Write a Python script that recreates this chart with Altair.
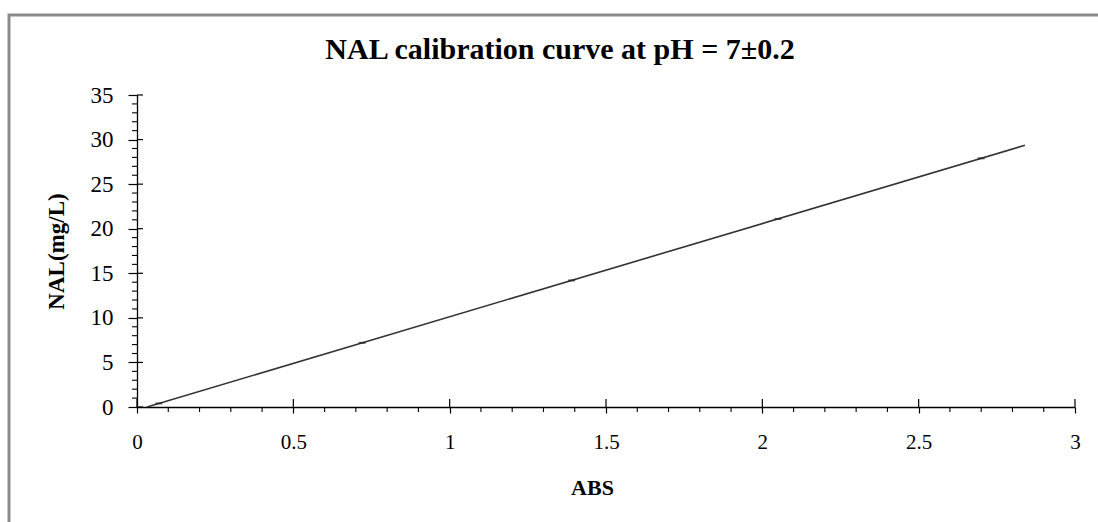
import altair as alt
import pandas as pd

# Calibration points: absorbance vs. NAL concentration
abs_values = [0.07, 0.72, 1.39, 2.05, 2.70]
nal_values = [0.4, 7.2, 14.2, 21.1, 27.9]

# Range over which the fitted calibration line is drawn
fit_extent = [0.032, 2.84]

# Axis tick positions
x_major = [0, 0.5, 1, 1.5, 2, 2.5, 3]
x_minor = [0.1, 0.2, 0.3, 0.4, 0.6, 0.7, 0.8, 0.9,
           1.1, 1.2, 1.3, 1.4, 1.6, 1.7, 1.8, 1.9,
           2.1, 2.2, 2.3, 2.4, 2.6, 2.7, 2.8, 2.9]
y_major = [0, 5, 10, 15, 20, 25, 30, 35]
y_minor = [1, 2, 3, 4, 6, 7, 8, 9, 11, 12, 13, 14, 16, 17, 18, 19,
           21, 22, 23, 24, 26, 27, 28, 29, 31, 32, 33, 34]

title_text = "NAL calibration curve at pH = 7\u00b10.2"
x_title = "ABS"
y_title = "NAL(mg/L)"

FONT = "Liberation Serif"
W, H = 938, 312

df = pd.DataFrame({"abs": abs_values, "nal": nal_values})

x_scale = alt.Scale(domain=[0, 3], nice=False, zero=False)
y_scale = alt.Scale(domain=[0, 35], nice=False, zero=False)

x_axis = alt.Axis(
    values=x_major, tickCount=60, format="~g",
    labelFont=FONT, labelFontSize=21, labelColor="black",
    labelPadding=18, labelOverlap=False, labelFlush=False,
    tickSize=6, tickColor="black", tickWidth=1.2,
    domainColor="black", domainWidth=1.3,
    grid=False,
    title=x_title, titleFont=FONT, titleFontSize=22, titleFontWeight="bold",
    titleColor="black", titleX=455, titleY=80,
    titleAlign="center", titleBaseline="middle",
)
y_axis = alt.Axis(
    values=y_major, tickCount=60, format="~g",
    labelFont=FONT, labelFontSize=23, labelColor="black",
    labelPadding=15, labelOverlap=False, labelFlush=False,
    tickSize=9, tickColor="black", tickWidth=1.2,
    domainColor="black", domainWidth=1.3,
    grid=False,
    title=y_title, titleFont=FONT, titleFontSize=23, titleFontWeight="bold",
    titleColor="black", titleX=-81, titleY=H / 2, titleAngle=270,
    titleAlign="center", titleBaseline="middle",
)

base = alt.Chart(df)

# fitted calibration line (carries the axes for the whole layer)
fit_line = base.transform_regression(
    "abs", "nal", extent=fit_extent
).mark_line(color="#333333", strokeWidth=1.6).encode(
    x=alt.X("abs:Q", scale=x_scale, axis=x_axis),
    y=alt.Y("nal:Q", scale=y_scale, axis=y_axis),
)

# measured points shown as short dashes on the line
points = base.mark_tick(orient="horizontal", size=7, thickness=2, color="#222222").encode(
    x=alt.X("abs:Q", scale=x_scale),
    y=alt.Y("nal:Q", scale=y_scale),
)

# inner halves of the major ticks, so they cross the axis lines
x_cross = alt.Chart(pd.DataFrame({"abs": x_major})).mark_rule(
    color="black", strokeWidth=1.2
).encode(x=alt.X("abs:Q", scale=x_scale), y=alt.value(H - 8), y2=alt.value(H))

y_cross = alt.Chart(pd.DataFrame({"nal": y_major})).mark_rule(
    color="black", strokeWidth=1.2
).encode(y=alt.Y("nal:Q", scale=y_scale), x=alt.value(0), x2=alt.value(6))

# minor ticks on the outside of each axis
x_minor_ticks = alt.Chart(pd.DataFrame({"abs": x_minor})).mark_rule(
    color="black", strokeWidth=1.1
).encode(x=alt.X("abs:Q", scale=x_scale), y=alt.value(H), y2=alt.value(H + 5))

y_minor_ticks = alt.Chart(pd.DataFrame({"nal": y_minor})).mark_rule(
    color="black", strokeWidth=1.1
).encode(y=alt.Y("nal:Q", scale=y_scale), x=alt.value(-5), x2=alt.value(0))

# outer frame around the figure
frame = alt.Chart(alt.Data(values=[{"f": 1}])).mark_rect(
    fillOpacity=0, stroke="#8c8c8c", strokeWidth=3
).encode(x=alt.value(-128), x2=alt.value(1200), y=alt.value(-80), y2=alt.value(600))

chart = alt.layer(
    fit_line, points, x_cross, y_cross, x_minor_ticks, y_minor_ticks, frame
).properties(
    width=W,
    height=H,
    background="white",
    title=alt.TitleParams(
        title_text, font=FONT, fontSize=30, fontWeight="bold", color="black",
        anchor="middle", baseline="alphabetic", offset=0, dx=-46, dy=75,
    ),
    padding={"left": 137, "top": 95, "right": 23, "bottom": 115},
    autosize=alt.AutoSizeParams(type="none"),
).configure_view(strokeWidth=0, stroke="transparent")

chart.save("out.html", embed_options={"renderer": "svg", "actions": False})
